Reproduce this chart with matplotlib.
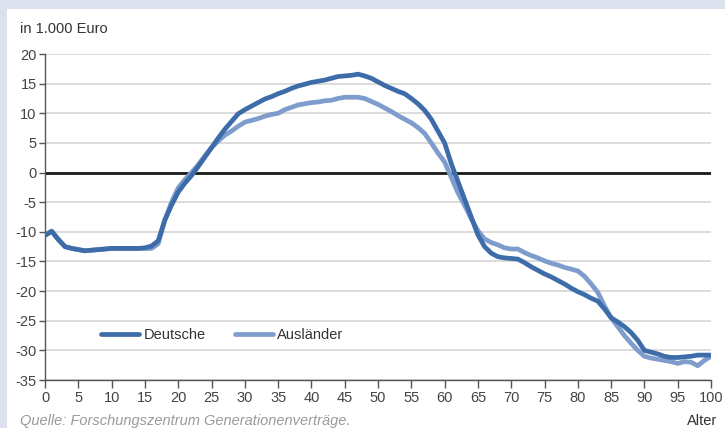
import numpy as np
import matplotlib
matplotlib.use("Agg")
import matplotlib.pyplot as plt
from matplotlib.patches import Rectangle

# Nettozahlungen je Altersjahr, in 1.000 Euro
alter = np.arange(0, 101)

deutsche = [
    -10.6, -9.9, -11.3, -12.5, -12.8, -13.0, -13.2, -13.1, -13.0, -12.9,
    -12.8, -12.8, -12.8, -12.8, -12.8, -12.7, -12.4, -11.5, -8.0, -5.5,
    -3.3, -1.8, -0.5, 1.0, 2.6, 4.2, 5.8, 7.3, 8.6, 9.9,
    10.6, 11.2, 11.8, 12.4, 12.8, 13.3, 13.7, 14.2, 14.6, 14.9,
    15.2, 15.4, 15.6, 15.9, 16.2, 16.3, 16.4, 16.6, 16.3, 15.9,
    15.3, 14.7, 14.2, 13.7, 13.3, 12.5, 11.6, 10.5, 9.0, 7.0,
    5.0, 1.5, -1.5, -4.5, -7.5, -10.5, -12.5, -13.6, -14.2, -14.4,
    -14.5, -14.6, -15.2, -15.9, -16.5, -17.1, -17.6, -18.2, -18.8, -19.5,
    -20.1, -20.6, -21.2, -21.7, -23.0, -24.5, -25.2, -26.0, -27.0, -28.3,
    -30.0, -30.3, -30.6, -31.0, -31.2, -31.2, -31.1, -31.0, -30.8, -30.8,
    -30.8,
]

auslaender = [
    -10.6, -9.9, -11.3, -12.5, -12.8, -13.0, -13.2, -13.1, -13.0, -12.9,
    -12.8, -12.8, -12.8, -12.8, -12.8, -12.8, -12.8, -12.0, -8.0, -5.0,
    -2.6, -1.2, 0.0, 1.3, 2.8, 4.2, 5.3, 6.3, 7.0, 7.8,
    8.5, 8.8, 9.1, 9.5, 9.8, 10.0, 10.6, 11.0, 11.4, 11.6,
    11.8, 11.9, 12.1, 12.2, 12.5, 12.7, 12.7, 12.7, 12.5, 12.0,
    11.5, 10.9, 10.3, 9.6, 9.0, 8.4, 7.6, 6.6, 5.0, 3.3,
    1.8, -0.8, -3.4, -5.5, -7.8, -9.8, -11.2, -11.8, -12.2, -12.7,
    -12.9, -12.9, -13.5, -14.0, -14.4, -14.9, -15.3, -15.6, -16.0, -16.3,
    -16.6, -17.5, -18.8, -20.2, -22.5, -24.5, -26.0, -27.5, -28.8, -30.0,
    -31.0, -31.3, -31.5, -31.7, -31.9, -32.2, -31.9, -32.0, -32.6, -31.7,
    -31.0,
]

x_ticks = np.arange(0, 101, 5)
y_ticks = np.arange(-35, 21, 5)

plt.rcParams["font.family"] = ["Liberation Sans", "DejaVu Sans"]
plt.rcParams["axes.unicode_minus"] = False

fig = plt.figure(figsize=(7.25, 4.28), dpi=100)
fig.patch.set_facecolor("#dde1ee")
# white panel behind the chart
fig.patches.append(Rectangle((7 / 725, 0), 1, 1 - 9 / 428,
                             transform=fig.transFigure, facecolor="white",
                             edgecolor="none", zorder=-10))

ax = fig.add_axes([45 / 725, 1 - 380 / 428, 666 / 725, 326 / 428])
ax.set_facecolor("none")
ax.set_zorder(1)

ax.plot(alter, deutsche, color="#3d6ca9", lw=3.4, label="Deutsche",
        solid_capstyle="round", zorder=4)
ax.plot(alter, auslaender, color="#7f9dcc", lw=3.4, label="Ausländer",
        solid_capstyle="round", zorder=3)
ax.axhline(0, color="#1a1a1a", lw=2.0, zorder=2)

ax.set_xlim(0, 100)
ax.set_ylim(-35, 20)
ax.set_xticks(x_ticks)
ax.set_yticks(y_ticks)
ax.yaxis.grid(True, color="#d9d9d9", lw=1.3)
ax.set_axisbelow(True)

for side in ("top", "right"):
    ax.spines[side].set_visible(False)
for side in ("left", "bottom"):
    ax.spines[side].set_color("#555555")
    ax.spines[side].set_linewidth(1.0)

ax.tick_params(axis="x", direction="out", length=6, width=1.0,
               color="#555555", labelcolor="#444444", labelsize=10.5, pad=2)
ax.tick_params(axis="y", direction="out", length=4, width=1.0,
               color="#555555", labelcolor="#444444", labelsize=10.5, pad=2)

ax.legend(loc="lower left", bbox_to_anchor=(0.065, 0.075), ncol=2,
          frameon=False, fontsize=10.5, handlelength=2.6, handletextpad=0.3,
          columnspacing=2.0, labelcolor="#333333")

fig.text(20 / 725, 1 - 29 / 428, "in 1.000 Euro", fontsize=10.5,
         color="#333333", va="center", ha="left")
fig.text(717 / 725, 1 - 421 / 428, "Alter", fontsize=10.5,
         color="#333333", va="center", ha="right")
fig.text(20 / 725, 1 - 420.5 / 428, "Quelle: Forschungszentrum Generationenverträge.",
         fontsize=10.5, color="#9a9a9a", style="italic", va="center", ha="left")

fig.savefig("out.png", dpi=100, facecolor=fig.get_facecolor())
